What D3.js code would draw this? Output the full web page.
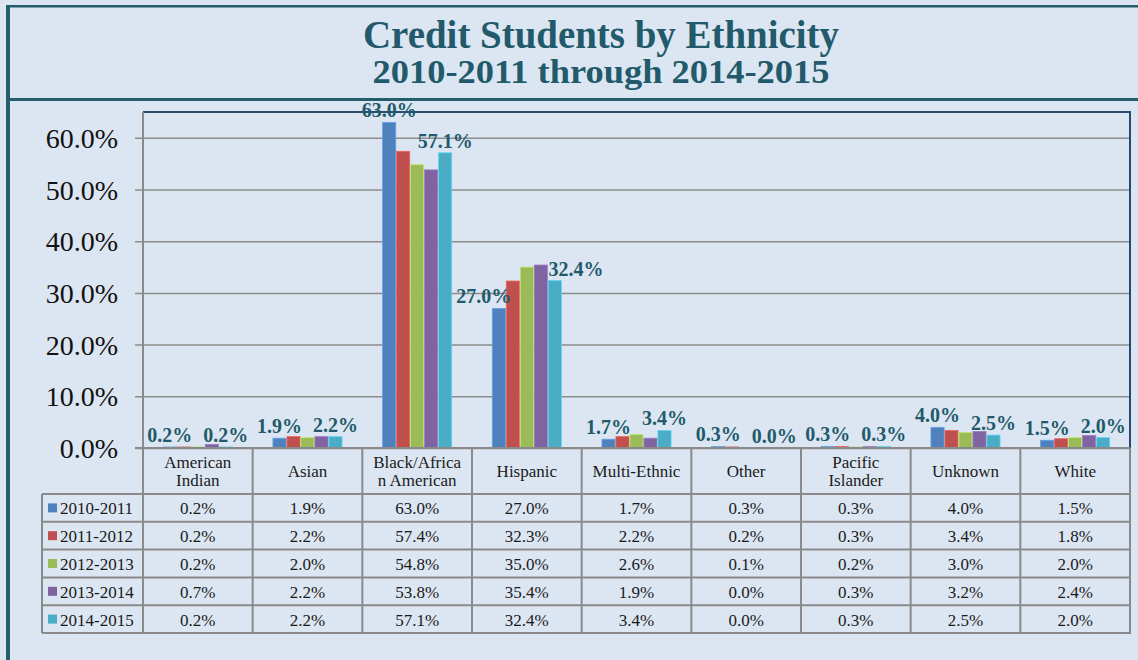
<!DOCTYPE html>
<html>
<head>
<meta charset="utf-8">
<script src="https://cdn.jsdelivr.net/npm/d3@7"></script>
<style>
  body { margin: 0; background: #dce6f2; }
  svg { display: block; font-family: "Liberation Serif", "DejaVu Serif", serif; }
</style>
</head>
<body>
<div class="box"></div>
<script>
// données
const titre = 'Credit Students by Ethnicity';
const sousTitre = '2010-2011 through 2014-2015';
const categories = ['American Indian', 'Asian', 'Black/African American', 'Hispanic', 'Multi-Ethnic',
                    'Other', 'Pacific Islander', 'Unknown', 'White'];
const annees = ['2010-2011', '2011-2012', '2012-2013', '2013-2014', '2014-2015'];
const v2010 = [0.2, 1.9, 63.0, 27.0, 1.7, 0.3, 0.3, 4.0, 1.5];
const v2011 = [0.2, 2.2, 57.4, 32.3, 2.2, 0.2, 0.3, 3.4, 1.8];
const v2012 = [0.2, 2.0, 54.8, 35.0, 2.6, 0.1, 0.2, 3.0, 2.0];
const v2013 = [0.7, 2.2, 53.8, 35.4, 1.9, 0.0, 0.3, 3.2, 2.4];
const v2014 = [0.2, 2.2, 57.1, 32.4, 3.4, 0.0, 0.3, 2.5, 2.0];
const valeurs = [v2010, v2011, v2012, v2013, v2014];
const yTicks = [0, 10, 20, 30, 40, 50, 60];

const couleurs = ['#4f81bd', '#c0504d', '#9bbb59', '#8064a2', '#4bacc6'];
const teal = '#225a6b';

const W = 1138, H = 660;
const plot = {left: 143, right: 1130, top: 112, bottom: 448};
const tab = {left: 42, head: 494, rowH: 27.8};
const fsTab = 17, fsLbl = 20;

const fmt = v => d3.format('.1f')(v) + '%';

const svg = d3.select('.box')
              .append('svg')
              .attr('width', W)
              .attr('height', H);

svg.append('rect').attr('width', W).attr('height', H).attr('fill', '#dce6f2');

// cadre
svg.append('rect').attr('x', 6).attr('y', 5).attr('width', 4).attr('height', H - 5).attr('fill', '#245e6c');
svg.append('rect').attr('x', 6).attr('y', 5).attr('width', W - 6).attr('height', 2.5).attr('fill', '#245e6c');
svg.append('rect').attr('x', 6).attr('y', 98).attr('width', W - 6).attr('height', 3).attr('fill', '#245e6c');

// titres
svg.append('text')
   .attr('x', 601).attr('y', 48)
   .attr('text-anchor', 'middle')
   .attr('font-size', 39).attr('font-weight', 'bold')
   .attr('fill', teal)
   .attr('textLength', 476).attr('lengthAdjust', 'spacingAndGlyphs')
   .text(titre);
svg.append('text')
   .attr('x', 601).attr('y', 83)
   .attr('text-anchor', 'middle')
   .attr('font-size', 33).attr('font-weight', 'bold')
   .attr('fill', teal)
   .attr('textLength', 457).attr('lengthAdjust', 'spacingAndGlyphs')
   .text(sousTitre);

// échelles
const x0 = d3.scaleBand().domain(categories).range([plot.left, plot.right]);
const bw = x0.bandwidth();
const x1 = d3.scaleBand().domain(annees).range([bw * 0.185, bw * 0.815]).paddingInner(0.06);
const y = d3.scaleLinear().domain([0, 65]).range([plot.bottom, plot.top]);

// axe y + grille
const axeY = svg.append('g')
                .attr('transform', `translate(${plot.left}, 0)`)
                .call(d3.axisLeft(y)
                        .tickValues(yTicks)
                        .tickSizeInner(-(plot.right - plot.left))
                        .tickSizeOuter(0)
                        .tickFormat(fmt));
axeY.select('.domain').remove();
axeY.selectAll('line')
    .attr('x1', -8)
    .attr('stroke', '#8c8c8c')
    .attr('stroke-width', 1.5);
axeY.selectAll('text')
    .attr('x', -25)
    .attr('dy', '0.34em')
    .attr('font-size', 28)
    .attr('font-family', '"Liberation Serif", serif')
    .attr('fill', '#111');

// barres
const groupes = svg.append('g')
                   .selectAll('g')
                   .data(categories)
                   .join('g')
                   .attr('transform', c => `translate(${x0(c)}, 0)`);

groupes.selectAll('rect')
       .data((c, i) => annees.map((a, k) => ({a, k, v: valeurs[k][i]})))
       .join('rect')
       .attr('x', d => x1(d.a))
       .attr('y', d => y(d.v))
       .attr('width', x1.bandwidth())
       .attr('height', d => plot.bottom - y(d.v))
       .attr('fill', d => couleurs[d.k])
       .attr('stroke', d => d3.color(couleurs[d.k]).brighter(0.6))
       .attr('stroke-width', 0.8);

// bordure du graphe
svg.append('line').attr('x1', plot.left).attr('x2', plot.right + 1).attr('y1', plot.top).attr('y2', plot.top)
   .attr('stroke', '#2b4a72').attr('stroke-width', 2);
svg.append('line').attr('x1', plot.right).attr('x2', plot.right).attr('y1', plot.top).attr('y2', plot.bottom)
   .attr('stroke', '#2b4a72').attr('stroke-width', 2);

// tableau
const tabBas = tab.head + tab.rowH * annees.length;
const grille = svg.append('g').attr('stroke', '#8a8a8a').attr('stroke-width', 2);

categories.forEach((c, i) => {
    grille.append('line').attr('x1', x0(c)).attr('x2', x0(c))
          .attr('y1', i === 0 ? plot.top : plot.bottom).attr('y2', tabBas);
});
grille.append('line').attr('x1', plot.right).attr('x2', plot.right).attr('y1', plot.bottom).attr('y2', tabBas);
grille.append('line').attr('x1', tab.left).attr('x2', tab.left).attr('y1', tab.head).attr('y2', tabBas);
grille.append('line').attr('x1', plot.left - 8).attr('x2', plot.right).attr('y1', plot.bottom).attr('y2', plot.bottom);
d3.range(annees.length + 1).forEach(r => {
    const yy = tab.head + r * tab.rowH;
    grille.append('line').attr('x1', tab.left).attr('x2', plot.right + 1).attr('y1', yy).attr('y2', yy);
});

// en-têtes (retour à la ligne mesuré)
const entetes = svg.append('g').attr('font-size', fsTab).attr('fill', '#1a1a1a').attr('text-anchor', 'middle');
const mesure = svg.append('text').attr('font-size', fsTab).attr('visibility', 'hidden');
const largeur = s => mesure.text(s).node().getComputedTextLength();
const couper = (s, max) => {
    const lignes = [];
    let cur = '';
    s.split(' ').forEach(mot => {
        const essai = cur ? cur + ' ' + mot : mot;
        if (largeur(essai) <= max) { cur = essai; return; }
        if (cur) lignes.push(cur);
        cur = '';
        for (const ch of mot) {
            if (largeur(cur + ch) > max && cur) { lignes.push(cur); cur = ch; }
            else cur += ch;
        }
    });
    if (cur) lignes.push(cur);
    return lignes;
};
categories.forEach(c => {
    const lignes = couper(c, 91);
    const cy = (plot.bottom + tab.head) / 2;
    const t = entetes.append('text').attr('x', x0(c) + bw / 2);
    lignes.forEach((l, j) => {
        t.append('tspan')
         .attr('x', x0(c) + bw / 2)
         .attr('y', cy + 6 + (j - (lignes.length - 1) / 2) * 18.5)
         .text(l);
    });
});
mesure.remove();

// lignes de valeurs + légende
const lignesTab = svg.append('g').attr('font-size', fsTab).attr('fill', '#1a1a1a');
annees.forEach((a, k) => {
    const cy = tab.head + (k + 0.5) * tab.rowH;
    lignesTab.append('rect')
             .attr('x', 48).attr('y', cy - 4.5)
             .attr('width', 9).attr('height', 9)
             .attr('fill', couleurs[k]);
    lignesTab.append('text')
             .attr('x', 60).attr('y', cy + 6.5)
             .text(a);
    categories.forEach((c, i) => {
        lignesTab.append('text')
                 .attr('x', x0(c) + bw / 2).attr('y', cy + 6.5)
                 .attr('text-anchor', 'middle')
                 .text(fmt(valeurs[k][i]));
    });
});

// étiquettes (première et dernière série)
const etiquettes = [];
[0, annees.length - 1].forEach(s => {
    categories.forEach((c, i) => {
        const v = valeurs[s][i];
        etiquettes.push({s, i, v, cx: x0(c) + x1(annees[s]) + x1.bandwidth() / 2, base: y(v) - 5});
    });
});

const lbl = svg.append('g')
               .selectAll('text')
               .data(etiquettes)
               .join('text')
               .attr('font-size', fsLbl)
               .attr('font-weight', 'bold')
               .attr('fill', teal)
               .text(d => fmt(d.v));

lbl.each(function(d) { d.w = this.getComputedTextLength(); d.left = d.cx - d.w / 2; });

// éviter les barres voisines plus hautes
etiquettes.forEach(d => {
    annees.forEach((a, k) => {
        if (k === d.s) return;
        const bx = x0(categories[d.i]) + x1(a);
        const bt = y(valeurs[k][d.i]);
        if (bt < d.base && bx < d.left + d.w && bx + x1.bandwidth() > d.left) {
            if (k > d.s) d.left = Math.min(d.left, bx + 5 - d.w);
            else d.left = Math.max(d.left, bx + x1.bandwidth() + 1);
        }
    });
});

// éviter les chevauchements entre étiquettes
const h = fsLbl * 0.72;
const tri = etiquettes.slice().sort((a, b) => a.left - b.left);
for (let j = tri.length - 2; j >= 0; j--) {
    const a = tri[j];
    for (let k = j + 1; k < tri.length; k++) {
        const b = tri[k];
        const vert = a.base - h - 4 < b.base + 4 && b.base - h - 4 < a.base + 4;
        if (vert && a.left + a.w > b.left - 4) a.left = b.left - 4 - a.w;
    }
}

lbl.attr('x', d => d.left).attr('y', d => d.base);
</script>
</body>
</html>
